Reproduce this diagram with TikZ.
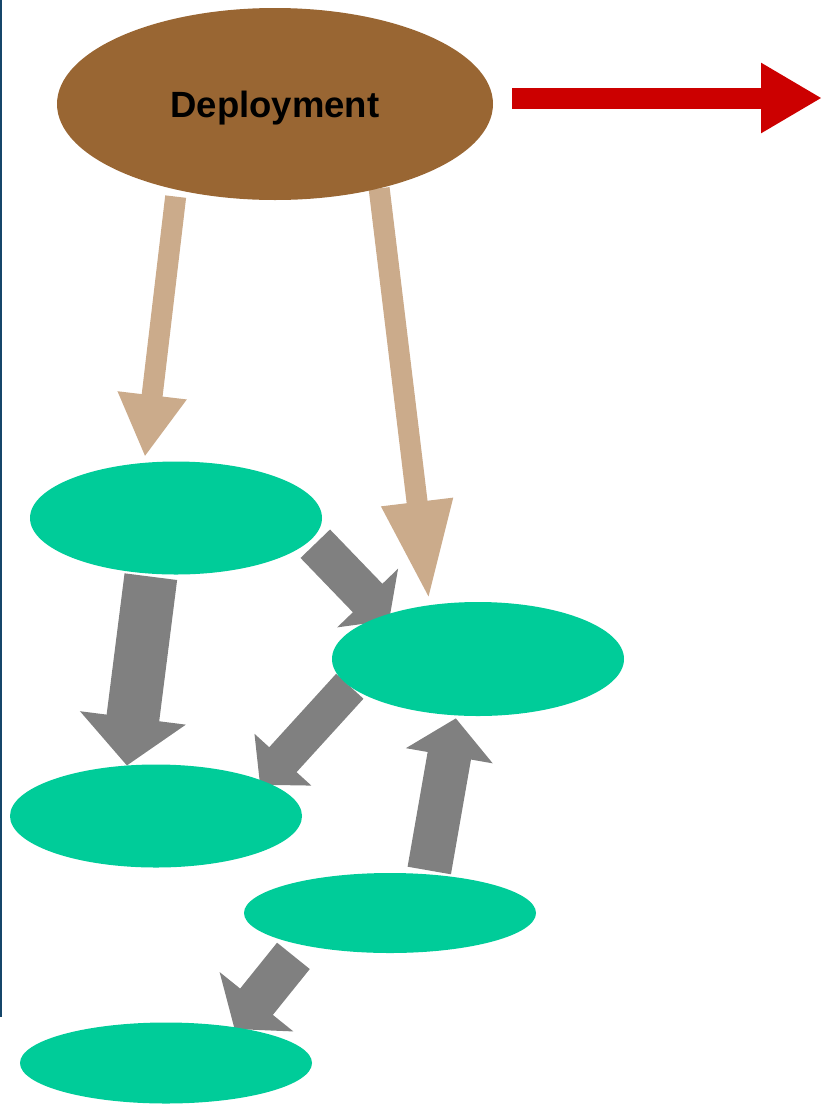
\documentclass[tikz,border=0pt]{standalone}
\usepackage{fontspec}
\setmainfont{Liberation Sans}
\usetikzlibrary{arrows.meta,shapes.geometric,backgrounds}
\definecolor{deploybrown}{HTML}{996633}
\definecolor{stagegreen}{HTML}{00CC99}
\definecolor{linkgray}{HTML}{808080}
\definecolor{feedtan}{HTML}{CBAB8B}
\definecolor{exportred}{HTML}{CC0000}
\definecolor{edgeblue}{HTML}{15466A}
\tikzset{
  deploybox/.style={ellipse,fill=deploybrown,inner sep=0pt,outer sep=0pt,
    minimum width=436pt,minimum height=192pt,text depth=0pt,
    font=\bfseries\fontsize{36.5}{40}\selectfont},
  stagebox/.style={ellipse,fill=stagegreen,inner sep=0pt,outer sep=0pt,
    minimum width=292pt},
  feedarrow/.style 2 args={draw=feedtan,line width=21pt,
    -{Triangle[width=#1,length=#2]}},
  linkarrow/.style n args={3}{draw=linkgray,line width=#1,
    -{Triangle[width=#2,length=#3]}},
  exportarrow/.style={draw=exportred,line width=21pt,
    -{Triangle[width=66pt,length=61pt]}}
}
\begin{document}
\begin{tikzpicture}[x=1pt,y=-1pt]
  \useasboundingbox (0,0) rectangle (822,1104);
  \draw[edgeblue,line width=2pt] (1,0) -- (1,1017);
  % deployment and its stages
  \node[deploybox] (deploy) at (275,104) {Deployment};
  \node[stagebox,minimum height=113pt] (upleft) at (176,518) {};
  \node[stagebox,minimum height=114pt] (midright) at (478,659) {};
  \node[stagebox,minimum height=103pt] (lowleft) at (156,816) {};
  \node[stagebox,minimum height=80pt] (lowright) at (390,913) {};
  \node[stagebox,minimum height=81pt] (bottom) at (166,1063) {};
  \coordinate (offpage) at (822,98);
  % arrows go under the ellipses
  \begin{scope}[on background layer]
    \draw[exportarrow] ([xshift=19pt,yshift=6pt]deploy.east) -- (offpage);
    \draw[feedarrow={65pt}{62pt},shorten <=7pt,shorten >=6pt] (deploy.-139) -- (upleft.120);
    \draw[feedarrow={66pt}{99pt},shorten >=5pt] (deploy.-39) -- (midright.132);
    \draw[linkarrow={53pt}{104pt}{48pt},shorten <=3pt] (upleft.-114) -- (lowleft.120);
    \draw[linkarrow={41pt}{83pt}{31pt},shorten <=6pt,shorten >=-7pt] (upleft.-9) -- (midright.155);
    \draw[linkarrow={37pt}{75pt}{34pt},shorten >=-5pt] (midright.-168) -- (lowleft.18);
    \draw[linkarrow={44pt}{86pt}{38pt},shorten <=4pt,shorten >=3pt] (lowright.45) -- (midright.-111);
    \draw[linkarrow={42pt}{93pt}{35pt},shorten <=14pt,shorten >=-2pt] (lowright.-160) -- (bottom.27);
  \end{scope}
\end{tikzpicture}
\end{document}
